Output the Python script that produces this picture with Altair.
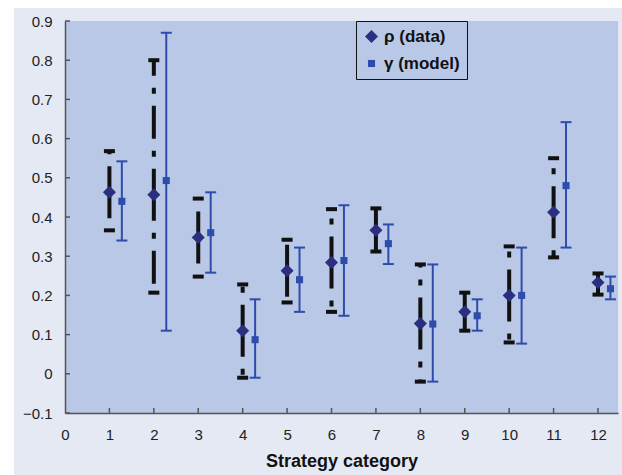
import altair as alt
import pandas as pd

# Strategy categories and the two series with their error ranges
categories = list(range(1, 13))

rho = [0.463, 0.457, 0.348, 0.110, 0.263, 0.284, 0.366, 0.128, 0.158, 0.200, 0.412, 0.233]
rho_lo = [0.366, 0.207, 0.248, -0.010, 0.182, 0.158, 0.312, -0.020, 0.110, 0.080, 0.297, 0.202]
rho_hi = [0.568, 0.800, 0.447, 0.228, 0.342, 0.420, 0.422, 0.279, 0.207, 0.325, 0.550, 0.256]

gamma = [0.440, 0.493, 0.360, 0.087, 0.240, 0.289, 0.332, 0.127, 0.148, 0.200, 0.480, 0.217]
gamma_lo = [0.340, 0.110, 0.258, -0.010, 0.158, 0.148, 0.280, -0.020, 0.110, 0.077, 0.322, 0.190]
gamma_hi = [0.542, 0.870, 0.463, 0.190, 0.322, 0.430, 0.381, 0.279, 0.190, 0.322, 0.642, 0.248]

series_names = ["ρ (data)", "γ (model)"]
x_ticks = list(range(0, 13))
y_ticks = [-0.1, 0.0, 0.1, 0.2, 0.3, 0.4, 0.5, 0.6, 0.7, 0.8, 0.9]

W, H = 553, 392
FONT = "Liberation Sans"
PLOT_BG = "#b9c8e6"
OUTER_BG = "#e5e9f4"
NAVY = "#2b2f80"
BLUE = "#2d4cab"

rows = []
for i, c in enumerate(categories):
    rows.append({"cat": c, "series": series_names[0], "v": rho[i], "lo": rho_lo[i], "hi": rho_hi[i]})
    rows.append({"cat": c, "series": series_names[1], "v": gamma[i], "lo": gamma_lo[i], "hi": gamma_hi[i]})
df = pd.DataFrame(rows)

xscale = alt.Scale(domain=[0, 12.45], nice=False, zero=False)
yscale = alt.Scale(domain=[-0.1, 0.9], nice=False, zero=False)

xaxis = alt.Axis(
    values=x_ticks, ticks=False, tickSize=0, grid=False, labelFont=FONT, labelFontSize=15,
    labelColor="#222222", labelPadding=14, domainColor="#555555", domainWidth=1.5,
    titleFont=FONT, titleFontSize=18, titleFontWeight="bold", titleColor="#111111",
    titlePadding=10, labelFlush=False, zindex=1,
)
yaxis = alt.Axis(
    values=y_ticks, ticks=False, tickSize=0, grid=False, labelFont=FONT, labelFontSize=15,
    labelColor="#222222", labelPadding=13, domainColor="#555555", domainWidth=1.5,
    labelExpr="datum.value == 0 ? '0' : format(datum.value, '.1f')", labelFlush=False, zindex=1,
)

X = alt.X("x:Q", scale=xscale, axis=xaxis, title="Strategy category")
Y = alt.Y("v:Q", scale=yscale, axis=yaxis, title=None)

base = alt.Chart(df).transform_calculate(
    x="datum.cat + (datum.series == 'γ (model)' ? 0.28 : 0)"
)
rho_base = base.transform_filter(alt.datum.series == series_names[0])
gam_base = base.transform_filter(alt.datum.series == series_names[1])

one = pd.DataFrame({"k": [0]})

# Figure panel and plot area backgrounds
outer = alt.Chart(one).mark_rect(color=OUTER_BG).encode(
    x=alt.value(-51), x2=alt.value(W + 4), y=alt.value(-13), y2=alt.value(H + 62)
)
inner = alt.Chart(one).mark_rect(color=PLOT_BG).encode(
    x=alt.value(0), x2=alt.value(W), y=alt.value(0), y2=alt.value(H)
)

# Inward tick marks on both axes
ytick_marks = alt.Chart(pd.DataFrame({"v": y_ticks})).mark_rule(color="#555555", strokeWidth=1.5).encode(
    y=Y, x=alt.value(0), x2=alt.value(5)
)
xtick_marks = alt.Chart(pd.DataFrame({"x": x_ticks[1:]})).mark_rule(color="#555555", strokeWidth=1.5).encode(
    x=X, y=alt.value(H), y2=alt.value(H - 5)
)

# Data series: dash-dot black bars running outward from the point
dash = dict(color="#111111", strokeWidth=4, strokeDash=[33, 12, 6, 12], strokeDashOffset=7, strokeCap="butt")
rho_up = rho_base.mark_rule(**dash).encode(x=X, y=Y, y2="hi:Q")
rho_down = rho_base.mark_rule(**dash).encode(x=X, y=Y, y2="lo:Q")
rho_cap_hi = rho_base.mark_tick(orient="horizontal", color="#111111", size=11, thickness=4, opacity=1).encode(
    x=X, y=alt.Y("hi:Q", scale=yscale, axis=yaxis, title=None)
)
rho_cap_lo = rho_base.mark_tick(orient="horizontal", color="#111111", size=11, thickness=4, opacity=1).encode(
    x=X, y=alt.Y("lo:Q", scale=yscale, axis=yaxis, title=None)
)

# Model series: solid blue bars with caps
gam_bar = gam_base.mark_rule(color=BLUE, strokeWidth=2).encode(
    x=X, y=alt.Y("lo:Q", scale=yscale, axis=yaxis, title=None), y2="hi:Q"
)
gam_cap_hi = gam_base.mark_tick(orient="horizontal", color=BLUE, size=11, thickness=2, opacity=1).encode(
    x=X, y=alt.Y("hi:Q", scale=yscale, axis=yaxis, title=None)
)
gam_cap_lo = gam_base.mark_tick(orient="horizontal", color=BLUE, size=11, thickness=2, opacity=1).encode(
    x=X, y=alt.Y("lo:Q", scale=yscale, axis=yaxis, title=None)
)

legend = alt.Legend(
    title=None, orient="none", legendX=291, legendY=0, fillColor=PLOT_BG, strokeColor="#111111",
    padding=7, rowPadding=9, labelFont=FONT, labelFontSize=17, labelFontWeight="bold",
    labelColor="#111111", symbolStrokeWidth=0, labelOffset=4,
)

points = base.mark_point(filled=True, opacity=1, strokeWidth=0).encode(
    x=X,
    y=Y,
    color=alt.Color("series:N", scale=alt.Scale(domain=series_names, range=[NAVY, BLUE]), legend=legend),
    shape=alt.Shape("series:N", scale=alt.Scale(domain=series_names, range=["diamond", "square"]), legend=legend),
    size=alt.Size("series:N", scale=alt.Scale(domain=series_names, range=[170, 50]), legend=legend),
)

chart = alt.layer(
    outer, inner, ytick_marks, xtick_marks,
    rho_up, rho_down, rho_cap_hi, rho_cap_lo,
    gam_bar, gam_cap_hi, gam_cap_lo,
    points,
).properties(
    width=W, height=H,
    padding={"left": 65, "top": 21, "right": 4, "bottom": 62},
    autosize=alt.AutoSizeParams(type="none"),
).configure(
    background="white",
).configure_view(
    stroke=None,
)

chart.save("out.html", embed_options={"renderer": "svg", "actions": False})
